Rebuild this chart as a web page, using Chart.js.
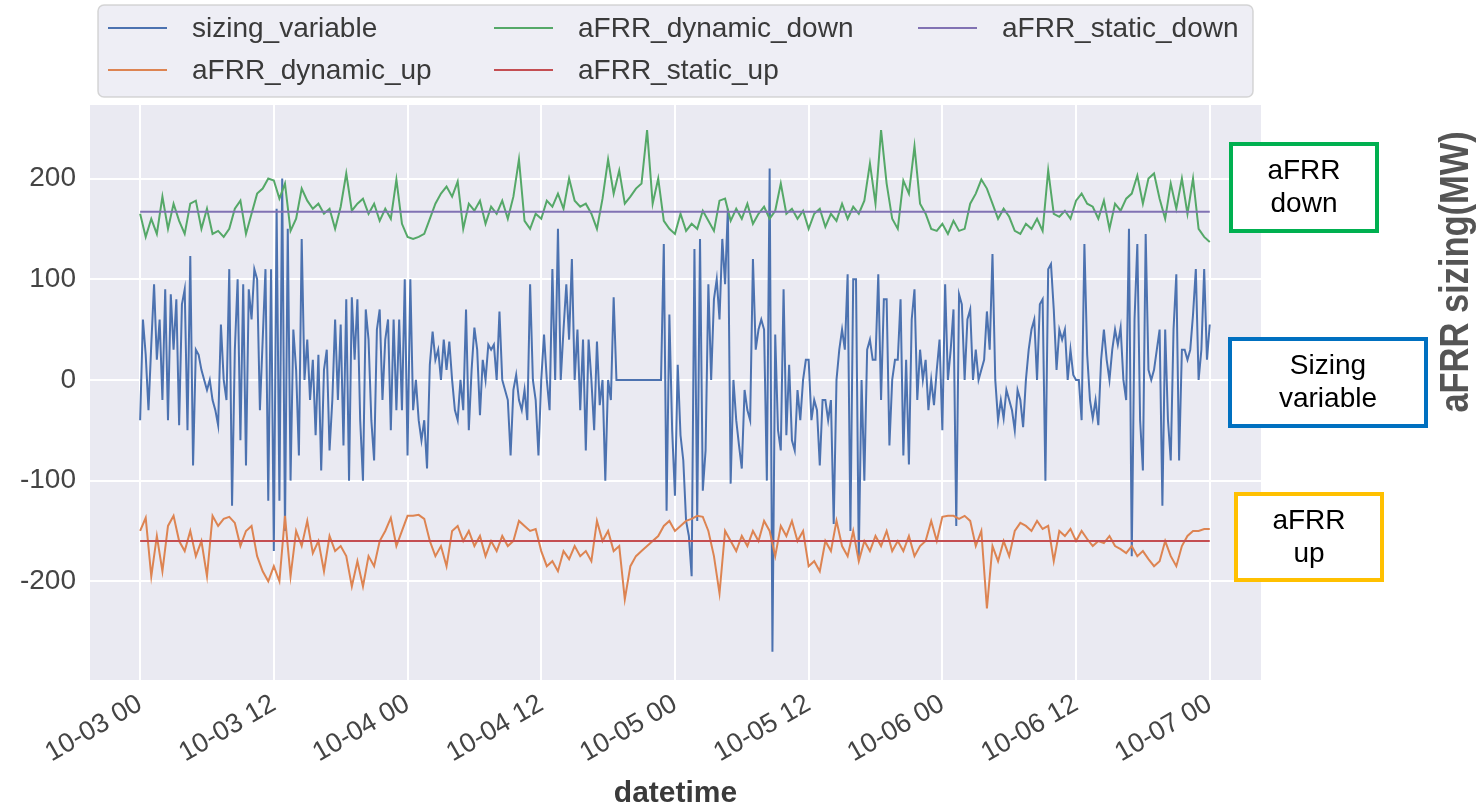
<!DOCTYPE html>
<html>
<head>
<meta charset="utf-8">
<title>aFRR sizing</title>
<script src="https://cdn.jsdelivr.net/npm/chart.js@4.4.0/dist/chart.umd.min.js"></script>
<style>
  body { margin: 0; background: #fff; }
  #wrap { width: 1481px; height: 808px; }
</style>
</head>
<body>
<div id="wrap"><canvas id="sizingChart" width="1481" height="808"></canvas></div>
<script>
// hours after 10-03 00:00 for the tick marks
const xTickHours = [0, 12, 24, 36, 48, 60, 72, 84, 96];
const xTickLabels = ['10-03 00', '10-03 12', '10-04 00', '10-04 12', '10-05 00',
                     '10-05 12', '10-06 00', '10-06 12', '10-07 00'];
const yTicks = [-200, -100, 0, 100, 200];

// sizing_variable, one value every 15 minutes (MW)
const sizingStepHours = 0.25;
const sizingVariable = [
  // 10-03
  -40, 60, 25, -30,   35, 95, 20, 60,   -20, 90, -40, 85,   30, 80, -45, 75,
  90, -50, 123, -85,  30, 25, 10, 0,    -10, 0, -20, -30,   -45, 55, 0, -20,
  110, -125, 30, 100, -60, 95, -85, 90, 60, 110, 100, -30,  40, 110, -120, 110,
  -170, 170, -120, 200, -150, 150, -100, 50, 10, -75, 140, 0, 40, -20, 20, -55,
  25, -90, 10, 30,    -70, -20, 60, -20, 55, -65, 80, -100, 82, 20, 80, -40,
  -100, 70, 40, -40,  -80, 50, 70, -20, 40, 60, -50, 60,    -30, 60, -30, 100,
  // 10-04
  -75, 100, -30, 0,   -40, -60, -40, -88, 15, 48, 20, 30,   0, 40, 10, 38,
  0, -30, -40, 0,     -30, 70, -50, 10,  52, 30, -35, 20,   0, 35, 30, 35,
  0, 68, 0, -10,      -20, -75, -10, 5,  -20, -30, -10, -40, 95, 0, -20, -75,
  0, 45, 0, -30,      110, 0, 150, 0,    50, 95, 40, 120,   0, 50, -30, 40,
  -70, 40, 0, -50,    38, -25, 0, -100,  0, -20, 82, 0,     0, 0, 0, 0,
  0, 0, 0, 0,         0, 0, 0, 0,        0, 0, 0, 0,        135, -130, 65, -50,
  // 10-05
  -115, 15, -55, -80, -140, -155, -195, 130, -140, 140, -110, -70, 95, 0, 80, 100,
  60, 140, 95, 170,   -103, 0, -40, -65, -88, -10, -30, -40, 120, 30, 50, 60,
  50, -100, 210, -270, 45, -50, -70, 90, -55, 15, -60, -70, -10, -40, 0, 20,
  20, -40, -20, -30,  -85, -20, -20, -40, -20, -143, 0, 30, 50, 30, 105, -150,
  100, 100, -176, 0,  -100, 30, 40, 20,  20, 105, -20, 80,  80, -65, 0, 20,
  20, 80, -75, 20,    -84, 60, 90, -20,  30, 0, 20, -30,    0, -25, 10, 40,
  // 10-06
  -50, 95, 0, 30,     70, -145, 85, 75,  0, 60, 70, 0,      30, 0, 10, 20,
  68, 30, 125, 0,     -40, -20, -38, -10, -20, -30, -50, -10, -20, -47, 0, 30,
  50, 60, 0, 75,      80, -100, 110, 115, 70, 10, 50, 40,   50, 0, 30, 5,
  0, 0, -40, 135,     25, -20, -38, -20, -45, 20, 50, 20,   0, 30, 50, 35,
  52, 0, -20, 150,    -175, 60, 135, -40, -90, 145, 10, 0,  10, 30, 50, -125,
  50, -40, -80, 50,   105, -80, 30, 30,  20, 30, 65, 110,   0, 30, 110, 20,
  55
];

// dynamic reserve sizing, one value every 30 minutes (MW)
const reserveStepHours = 0.5;
const aFRRDynamicDown = [
  165, 142, 160, 145, 182, 150, 175, 158, 145, 175, 178, 150,
  170, 145, 148, 142, 150, 170, 178, 145, 165, 185, 190, 200,
  198, 180, 195, 148, 160, 190, 178, 170, 175, 165, 170, 150,
  172, 205, 168, 175, 180, 165, 175, 158, 170, 160, 199, 155,
  142, 140, 142, 145, 160, 175, 185, 192, 182, 197, 150, 175,
  168, 178, 155, 172, 165, 178, 160, 182, 219, 158, 150, 165,
  160, 178, 172, 185, 170, 200, 178, 172, 175, 165, 150, 180,
  219, 185, 208, 175, 182, 190, 195, 248, 175, 200, 158, 150,
  145, 165, 148, 155, 150, 168, 158, 148, 178, 180, 158, 170,
  160, 175, 155, 165, 172, 160, 168, 195, 165, 170, 160, 168,
  150, 165, 170, 152, 165, 158, 175, 160, 172, 165, 178, 215,
  175, 248, 195, 160, 150, 198, 185, 232, 175, 165, 150, 148,
  155, 145, 158, 148, 150, 175, 185, 199, 190, 175, 160, 170,
  162, 148, 145, 155, 150, 160, 148, 208, 165, 162, 168, 160,
  178, 185, 175, 172, 160, 178, 150, 175, 168, 180, 185, 203,
  175, 200, 205, 180, 160, 195, 170, 200, 165, 200, 150, 142,
  137
];
const aFRRDynamicUp = [
  -150, -137, -195, -155, -190, -145, -135, -160, -170, -150, -175, -160,
  -195, -135, -145, -138, -136, -142, -165, -150, -145, -175, -190, -200,
  -185, -200, -135, -195, -150, -165, -140, -172, -160, -190, -155, -170,
  -165, -175, -205, -180, -205, -175, -185, -160, -150, -137, -165, -150,
  -135, -135, -134, -138, -160, -175, -165, -185, -150, -145, -160, -150,
  -165, -155, -175, -160, -170, -155, -165, -160, -140, -145, -150, -148,
  -170, -185, -180, -190, -170, -178, -165, -175, -170, -180, -140, -160,
  -150, -170, -165, -218, -185, -175, -170, -165, -160, -155, -145, -140,
  -150, -145, -140, -138, -135, -136, -150, -175, -212, -150, -160, -170,
  -155, -165, -150, -160, -140, -150, -175, -145, -155, -140, -160, -150,
  -185, -180, -190, -160, -170, -140, -165, -175, -150, -180, -160, -170,
  -155, -165, -150, -170, -160, -170, -155, -175, -165, -160, -140, -160,
  -136, -135, -135, -138, -135, -140, -165, -150, -227, -165, -180, -160,
  -175, -150, -142, -145, -150, -140, -148, -145, -180, -150, -155, -148,
  -160, -150, -158, -165, -160, -162, -155, -165, -168, -172, -165, -175,
  -170, -178, -185, -180, -160, -175, -185, -165, -155, -150, -150, -148,
  -148
];

// static reserve sizing (MW)
const aFRRStaticDown = 167;
const aFRRStaticUp = -160;
const periodHours = 96;

const colors = {
  sizing: '#4C72B0',
  dynUp: '#DD8452',
  dynDown: '#55A868',
  statUp: '#C44E52',
  statDown: '#8172B3'
};

const toPoints = (values, step) => values.map((v, i) => ({ x: i * step, y: v }));
const flat = v => [{ x: 0, y: v }, { x: periodHours, y: v }];

// legend laid out like matplotlib ncol=3 (column major)
const legendEntries = [
  { label: 'sizing_variable', color: colors.sizing, col: 0, row: 0 },
  { label: 'aFRR_dynamic_up', color: colors.dynUp, col: 0, row: 1 },
  { label: 'aFRR_dynamic_down', color: colors.dynDown, col: 1, row: 0 },
  { label: 'aFRR_static_up', color: colors.statUp, col: 1, row: 1 },
  { label: 'aFRR_static_down', color: colors.statDown, col: 2, row: 0 }
];

const sideNotes = [
  { lines: ['aFRR', 'down'], color: '#00B050', box: [1231, 144, 146, 87] },
  { lines: ['Sizing', 'variable'], color: '#0070C0', box: [1230, 339, 196, 87] },
  { lines: ['aFRR', 'up'], color: '#FFC000', box: [1236, 494, 146, 86] }
];

const FONT = "'Liberation Sans', Arial, sans-serif";

const extrasPlugin = {
  id: 'extras',
  afterDraw(chart) {
    const ctx = chart.ctx;
    ctx.save();

    // legend box
    ctx.beginPath();
    ctx.roundRect(98, 5, 1155, 92, 6);
    ctx.fillStyle = 'rgba(234, 234, 242, 0.8)';
    ctx.fill();
    ctx.strokeStyle = 'rgba(204, 204, 204, 0.8)';
    ctx.lineWidth = 1.5;
    ctx.stroke();

    const colX = [108, 494, 918];
    const rowY = [28, 70];
    ctx.font = '28px ' + FONT;
    ctx.textBaseline = 'middle';
    ctx.textAlign = 'left';
    legendEntries.forEach(e => {
      const x = colX[e.col], y = rowY[e.row];
      ctx.strokeStyle = e.color;
      ctx.lineWidth = 2;
      ctx.beginPath();
      ctx.moveTo(x, y);
      ctx.lineTo(x + 59, y);
      ctx.stroke();
      ctx.fillStyle = '#3a3a3a';
      ctx.fillText(e.label, x + 84, y + 1);
    });

    // annotation boxes on the right
    sideNotes.forEach(n => {
      const [x, y, w, h] = n.box;
      ctx.fillStyle = '#fff';
      ctx.fillRect(x, y, w, h);
      ctx.strokeStyle = n.color;
      ctx.lineWidth = 4;
      ctx.strokeRect(x, y, w, h);
      ctx.fillStyle = '#000';
      ctx.font = '28px ' + FONT;
      ctx.textAlign = 'center';
      ctx.textBaseline = 'middle';
      ctx.fillText(n.lines[0], x + w / 2, y + h / 2 - 16);
      ctx.fillText(n.lines[1], x + w / 2, y + h / 2 + 17);
    });

    // right-hand axis title
    ctx.translate(1457, 272);
    ctx.rotate(-Math.PI / 2);
    ctx.scale(0.84, 1);
    ctx.font = 'bold 41px ' + FONT;
    ctx.fillStyle = '#555';
    ctx.textAlign = 'center';
    ctx.textBaseline = 'middle';
    ctx.fillText('aFRR sizing(MW)', 0, 0);

    ctx.restore();
  }
};

const bgPlugin = {
  id: 'plotBg',
  beforeDraw(chart) {
    const { ctx, chartArea: a } = chart;
    ctx.save();
    ctx.fillStyle = '#EAEAF2';
    ctx.fillRect(a.left, a.top, a.right - a.left, a.bottom - a.top);
    ctx.restore();
  }
};

new Chart(document.getElementById('sizingChart'), {
  type: 'line',
  data: {
    datasets: [
      { label: 'sizing_variable', data: toPoints(sizingVariable, sizingStepHours),
        borderColor: colors.sizing, order: 5 },
      { label: 'aFRR_dynamic_up', data: toPoints(aFRRDynamicUp, reserveStepHours),
        borderColor: colors.dynUp, order: 4 },
      { label: 'aFRR_dynamic_down', data: toPoints(aFRRDynamicDown, reserveStepHours),
        borderColor: colors.dynDown, order: 3 },
      { label: 'aFRR_static_up', data: flat(aFRRStaticUp),
        borderColor: colors.statUp, order: 2 },
      { label: 'aFRR_static_down', data: flat(aFRRStaticDown),
        borderColor: colors.statDown, order: 1 }
    ]
  },
  options: {
    responsive: false,
    animation: false,
    layout: { padding: { top: 105, right: 220, left: 0, bottom: 0 } },
    elements: {
      point: { radius: 0 },
      line: { borderWidth: 2, tension: 0, fill: false }
    },
    plugins: {
      legend: { display: false },
      tooltip: { enabled: false }
    },
    scales: {
      x: {
        type: 'linear',
        min: -4.5,
        max: 100.6,
        afterBuildTicks: s => { s.ticks = xTickHours.map(v => ({ value: v })); },
        afterFit: s => { s.height = 128; },
        grid: { color: '#fff', lineWidth: 2, drawTicks: false },
        border: { display: false },
        ticks: {
          autoSkip: false,
          minRotation: 30,
          maxRotation: 30,
          padding: 8,
          color: '#444',
          font: { family: FONT, size: 27 },
          callback: v => xTickLabels[xTickHours.indexOf(v)]
        },
        title: {
          display: true,
          text: 'datetime',
          color: '#3a3a3a',
          font: { family: FONT, size: 30, weight: 'bold' },
          padding: { top: 0, bottom: -4 }
        }
      },
      y: {
        min: -298,
        max: 273,
        afterBuildTicks: s => { s.ticks = yTicks.map(v => ({ value: v })); },
        afterFit: s => { s.width = 90; },
        grid: { color: '#fff', lineWidth: 2, drawTicks: false },
        border: { display: false },
        ticks: {
          padding: 14,
          color: '#444',
          font: { family: FONT, size: 28 }
        }
      }
    }
  },
  plugins: [bgPlugin, extrasPlugin]
});
</script>
</body>
</html>
